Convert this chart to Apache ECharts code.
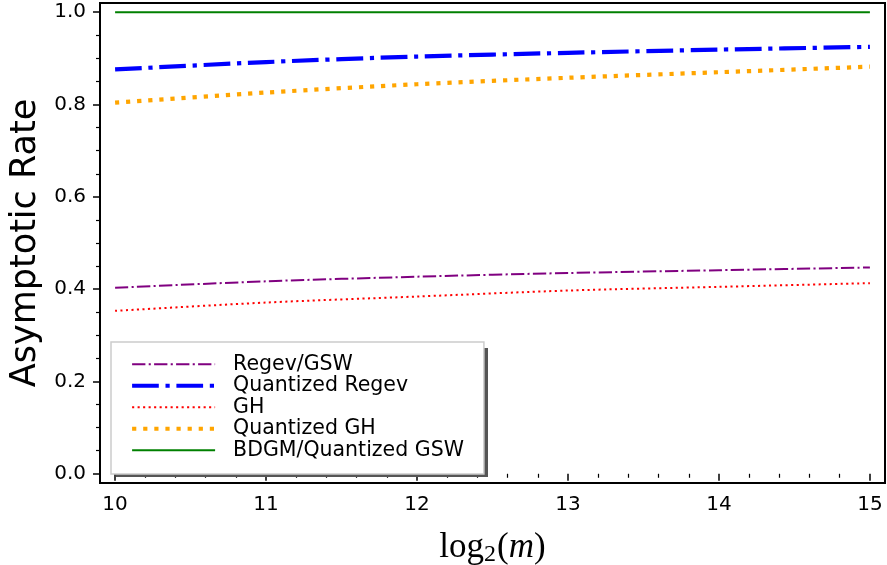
<!DOCTYPE html>
<html>
<head>
<meta charset="utf-8">
<script src="https://cdn.jsdelivr.net/npm/echarts@6/dist/echarts.min.js"></script>
<style>
  html, body { margin: 0; padding: 0; background: #fff; }
  #chart { width: 887px; height: 565px; }
</style>
</head>
<body>
<div id="chart"></div>
<script>
  // log2(m) values
  let xValues = [10, 11, 12, 13, 14, 15];
  let regevGsw = [0.403, 0.417, 0.427, 0.435, 0.441, 0.447];
  let quantRegev = [0.876, 0.892, 0.904, 0.912, 0.919, 0.925];
  let gh = [0.353, 0.371, 0.384, 0.397, 0.405, 0.413];
  let quantGh = [0.804, 0.826, 0.844, 0.858, 0.870, 0.882];
  let bdgm = [1.0, 1.0, 1.0, 1.0, 1.0, 1.0];

  let xMajor = [10, 11, 12, 13, 14, 15];
  let xMinor = [10.2, 10.4, 10.6, 10.8, 11.2, 11.4, 11.6, 11.8, 12.2, 12.4, 12.6, 12.8,
                13.2, 13.4, 13.6, 13.8, 14.2, 14.4, 14.6, 14.8];
  let yMajor = [0, 0.2, 0.4, 0.6, 0.8, 1.0];
  let yMinor = [0.05, 0.1, 0.15, 0.25, 0.3, 0.35, 0.45, 0.5, 0.55, 0.65, 0.7, 0.75, 0.85, 0.9, 0.95];

  function pairs(ys) {
    return xValues.map(function (x, i) { return [x, ys[i]]; });
  }

  let chart = echarts.init(document.getElementById('chart'));
  let tickFont = 'DejaVu Sans';

  let styles = {
    'Regev/GSW': { color: '#800080', width: 2, dash: [13.3, 3.3, 2.1, 3.3] },
    'Quantized Regev': { color: '#0000ff', width: 4.2, dash: [26.7, 6.7, 4.2, 6.7] },
    'GH': { color: '#ff0000', width: 2, dash: [2.1, 3.4] },
    'Quantized GH': { color: '#ffa500', width: 4.2, dash: [4.2, 6.9] },
    'BDGM/Quantized GSW': { color: '#008000', width: 2, dash: 'solid' }
  };

  function line(name, data) {
    let s = styles[name];
    return {
      name: name,
      type: 'line',
      data: pairs(data),
      smooth: 0.3,
      symbol: 'none',
      lineStyle: { color: s.color, width: s.width, type: s.dash, cap: 'butt' },
      itemStyle: { color: s.color }
    };
  }

  function legendItem(name) {
    let s = styles[name];
    return {
      name: name,
      itemStyle: { opacity: 0 },
      lineStyle: { width: s.width, type: s.dash, color: s.color, cap: 'butt' }
    };
  }

  let option = {
    animation: false,
    grid: {
      left: 100, right: 2, top: 3, bottom: 82,
      outerBoundsMode: 'none', containLabel: false,
      show: true, borderColor: '#000', borderWidth: 2, backgroundColor: 'transparent'
    },
    graphic: [
      {
        type: 'rect', z: 3, silent: true,
        shape: { x: 116, y: 348, width: 372, height: 129 },
        style: { fill: '#555555' }
      }
    ],
    xAxis: [
      {
        type: 'value', min: 9.9, max: 15.1, position: 'bottom',
        name: '{a|log}{b|2}{a|(}{m|m}{a|)}',
        nameLocation: 'middle', nameGap: 46,
        nameTextStyle: {
          rich: {
            a: { fontFamily: 'Liberation Serif', fontSize: 35, color: '#000' },
            b: { fontFamily: 'Liberation Serif', fontSize: 24, color: '#000', padding: [14, 1, 0, 0] },
            m: { fontFamily: 'Liberation Serif', fontSize: 35, fontStyle: 'italic', color: '#000' }
          }
        },
        axisLine: { show: false },
        splitLine: { show: false },
        axisTick: { show: true, customValues: xMajor, length: 7, lineStyle: { color: '#000', width: 1.5 } },
        axisLabel: {
          customValues: xMajor, margin: 12, color: '#000',
          fontFamily: tickFont, fontSize: 20,
          formatter: function (v) { return String(v); }
        }
      },
      {
        type: 'value', min: 9.9, max: 15.1, position: 'bottom',
        axisLine: { show: false },
        splitLine: { show: false },
        axisTick: { show: true, customValues: xMinor, length: 4, lineStyle: { color: '#000', width: 1.2 } },
        axisLabel: { show: false }
      }
    ],
    yAxis: [
      {
        type: 'value', min: -0.02, max: 1.02, position: 'left',
        name: 'Asymptotic Rate', nameLocation: 'middle', nameGap: 49,
        nameTextStyle: { fontFamily: tickFont, fontSize: 35, color: '#000' },
        axisLine: { show: false },
        splitLine: { show: false },
        axisTick: { show: true, customValues: yMajor, length: 7, lineStyle: { color: '#000', width: 1.5 } },
        axisLabel: {
          customValues: yMajor, margin: 14, color: '#000',
          fontFamily: tickFont, fontSize: 20,
          formatter: function (v) { return v.toFixed(1); }
        }
      },
      {
        type: 'value', min: -0.02, max: 1.02, position: 'left',
        axisLine: { show: false },
        splitLine: { show: false },
        axisTick: { show: true, customValues: yMinor, length: 4, lineStyle: { color: '#000', width: 1.2 } },
        axisLabel: { show: false }
      }
    ],
    legend: {
      orient: 'vertical',
      left: 111, top: 342,
      padding: [11.5, 20, 13, 19],
      itemWidth: 83, itemHeight: 14, itemGap: 0,
      backgroundColor: '#fff',
      borderColor: '#cccccc', borderWidth: 1.5,
      textStyle: {
        fontFamily: tickFont, fontSize: 20.5, color: '#000',
        lineHeight: 21.5, padding: [0, 0, 0, 13]
      },
      data: ['Regev/GSW', 'Quantized Regev', 'GH', 'Quantized GH', 'BDGM/Quantized GSW'].map(legendItem)
    },
    series: [
      line('Regev/GSW', regevGsw),
      line('Quantized Regev', quantRegev),
      line('GH', gh),
      line('Quantized GH', quantGh),
      line('BDGM/Quantized GSW', bdgm)
    ]
  };

  chart.setOption(option);
</script>
</body>
</html>
